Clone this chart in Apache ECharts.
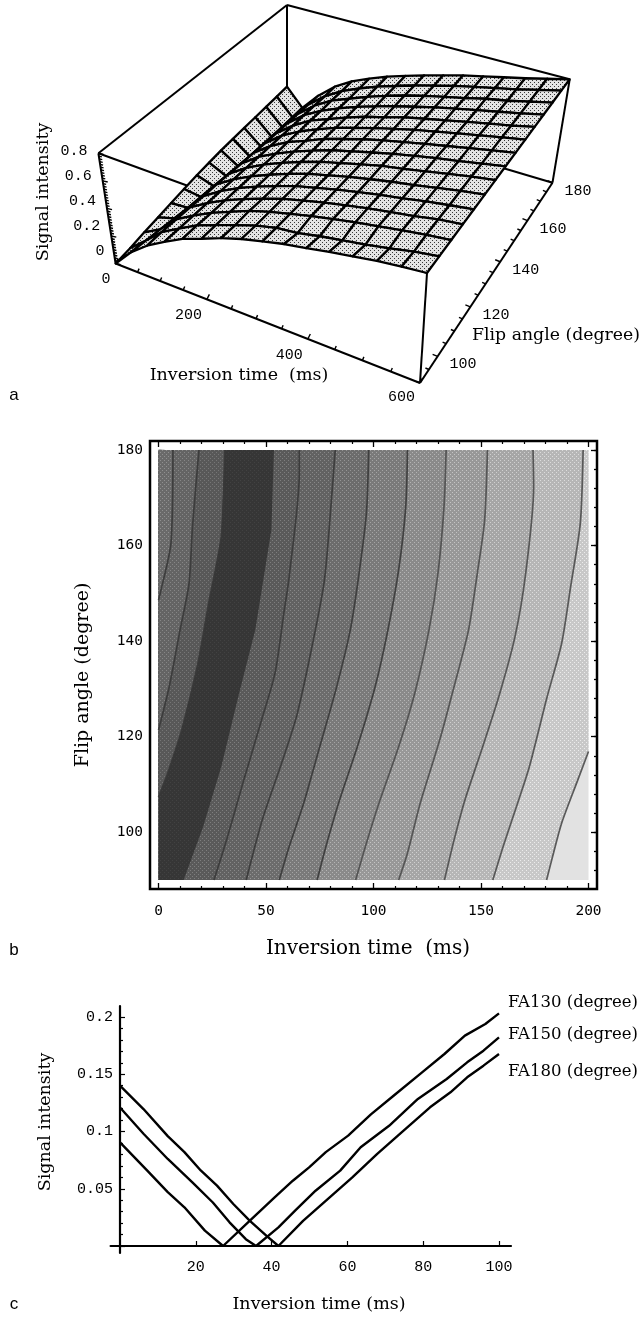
<!DOCTYPE html>
<html>
<head>
<meta charset="utf-8">
<style>html,body{margin:0;padding:0;background:#fff}#c{width:641px;height:1317px}</style>
<script src="https://cdn.jsdelivr.net/npm/echarts@6/dist/echarts.min.js"></script>
</head>
<body>
<div id="c"></div>
<script>
// ---------- Panel a data: signal intensity; one row per flip angle, one column per inversion time
const surfaceTI = [0,40,80,120,160,200,240,280,320,360,400,440,480,520,560,600];
const surfaceFA = [90,96.4,102.9,109.3,115.7,122.1,128.6,135,141.4,147.9,154.3,160.7,167.1,173.6,180];
const surfaceS = [
 [0.00,0.13,0.23,0.31,0.385,0.44,0.50,0.55,0.59,0.63,0.66,0.695,0.725,0.755,0.78,0.80],
 [0.012,0.115,0.228,0.305,0.38,0.435,0.49,0.54,0.58,0.60,0.635,0.665,0.695,0.73,0.77,0.80],
 [0.03,0.10,0.222,0.30,0.37,0.43,0.49,0.535,0.575,0.615,0.65,0.685,0.715,0.745,0.775,0.80],
 [0.045,0.085,0.215,0.295,0.365,0.425,0.48,0.53,0.57,0.61,0.645,0.68,0.71,0.74,0.775,0.80],
 [0.06,0.07,0.205,0.29,0.36,0.42,0.475,0.525,0.565,0.605,0.64,0.675,0.705,0.74,0.77,0.80],
 [0.075,0.06,0.20,0.285,0.355,0.415,0.47,0.52,0.56,0.60,0.635,0.67,0.70,0.735,0.77,0.80],
 [0.09,0.05,0.19,0.28,0.35,0.41,0.465,0.515,0.555,0.595,0.635,0.665,0.70,0.735,0.77,0.80],
 [0.10,0.04,0.18,0.275,0.345,0.405,0.46,0.51,0.55,0.59,0.63,0.665,0.70,0.73,0.765,0.80],
 [0.11,0.03,0.175,0.27,0.345,0.40,0.46,0.505,0.55,0.59,0.625,0.66,0.695,0.73,0.765,0.80],
 [0.115,0.02,0.165,0.265,0.34,0.40,0.455,0.50,0.545,0.585,0.625,0.66,0.695,0.73,0.765,0.80],
 [0.12,0.015,0.16,0.26,0.34,0.395,0.45,0.50,0.54,0.585,0.62,0.655,0.69,0.725,0.76,0.80],
 [0.125,0.01,0.155,0.26,0.335,0.395,0.45,0.495,0.54,0.58,0.62,0.655,0.69,0.725,0.76,0.80],
 [0.13,0.007,0.15,0.255,0.335,0.39,0.445,0.495,0.54,0.58,0.615,0.65,0.69,0.72,0.76,0.80],
 [0.135,0.005,0.145,0.25,0.33,0.39,0.445,0.49,0.535,0.575,0.615,0.65,0.685,0.72,0.76,0.80],
 [0.14,0.005,0.14,0.25,0.33,0.39,0.445,0.49,0.535,0.575,0.615,0.65,0.685,0.72,0.76,0.80]
];
const tiTickLabelsA = [0,200,400,600];
const faTickLabelsA = [100,120,140,160,180];
const sTickLabelsA = [0,0.2,0.4,0.6,0.8];

// ---------- Panel b data: contour lines as [inversion time, flip angle]
const contourL1 = [[6.7,180],[5.8,160.5],[0.8,150],[0,148.6]];
const contourL2 = [[18.8,180],[15.8,164],[14.2,152.1],[10,142.3],[5,130.5],[0.8,122.8],[0,121.4]];
const contourL3 = [[30.8,180],[29.2,161.9],[23.3,147.9],[18.3,135.3],[10.8,121.4],[4.2,112.3],[0,107.4]];
const contourR1 = [[53.7,180],[52.5,163.3],[50,156.3],[45,142.3],[37.5,129.1],[29.2,113.7],[20.8,101.2],[11.7,90]];
const contourR2 = [[65.5,180],[65.5,175.1],[60.8,153.5],[58.3,145.8],[54.2,133.3],[47.5,122.8],[39.2,110.2],[31.7,98.4],[25.8,90]];
const contourR3 = [[82.2,180],[80.8,171.6],[77.2,152.8],[71.7,139.5],[64.2,124.2],[56.7,113.7],[48.3,102.6],[40.8,90]];
const contourR4 = [[97.8,180],[96.7,166.7],[93.3,154.2],[89.2,142.3],[82.5,129.8],[75,117.9],[67.5,106],[60.8,97],[56.2,90]];
const contourR5 = [[115.8,180],[115,168.1],[111.7,154.9],[106.7,142.3],[100.8,130.5],[92.5,117.9],[84.2,106.7],[78.3,97.7],[73.8,90]];
const contourR6 = [[133.8,180],[132.8,168.1],[130,154.2],[125.8,142.3],[119.2,129.1],[111.7,117.9],[102.5,106],[96.7,97.7],[91.7,90]];
const contourR7 = [[153,180],[151.7,165.3],[148.3,154.2],[144.2,142.3],[137.5,130.5],[130.8,119.3],[121.7,106],[115.8,95.6],[111.7,90]];
const contourR8 = [[174.2,180],[174.5,172.3],[170.8,154.2],[165.8,140.9],[158.3,128.4],[150.8,117.9],[142.5,106.7],[137.5,98.4],[133,90]];
const contourR9 = [[197.5,180],[196.2,164.7],[191.7,151.4],[187.5,139.5],[180.8,128.4],[172.5,113.7],[167.5,106.7],[160.8,97.7],[155.5,90]];
const contourR10 = [[200,116.9],[195,110.9],[187.5,101.9],[183.3,94.9],[180.5,90]];
const faTickLabelsB = [100,120,140,160,180];

// ---------- Panel c data: [inversion time, signal intensity]
const fa130 = [[0,0.0905],[7.2,0.0658],[12.6,0.047],[17,0.0338],[22.4,0.0134],[27.2,0],[34.2,0.022],[40.8,0.0425],[45.6,0.057],[49.9,0.0687],[54.3,0.082],[60.2,0.0964],[66.2,0.115],[72.1,0.131],[79.7,0.1517],[85.6,0.1677],[91,0.1837],[96.4,0.1939],[100,0.2032]];
const fa150 = [[0,0.121],[6.2,0.098],[12.6,0.076],[19.1,0.0556],[24.5,0.038],[28.9,0.0207],[33.2,0.006],[35.9,0],[41.8,0.0163],[46.2,0.0309],[51.6,0.0483],[58.1,0.0658],[63.5,0.0862],[71,0.105],[78.6,0.1284],[86.2,0.1459],[91.6,0.1604],[95.9,0.1706],[100,0.1822]];
const fa180 = [[0,0.14],[6.2,0.1196],[12.6,0.096],[17,0.082],[21.3,0.066],[25.6,0.0527],[29.9,0.0367],[34.2,0.0221],[38.6,0.009],[41.8,0],[48.3,0.022],[54.8,0.041],[61.3,0.06],[67.8,0.0803],[74.3,0.0993],[81.8,0.1211],[87.2,0.1342],[91.6,0.1473],[95.9,0.1575],[100,0.1677]];

// ---------- Layout and style
const MONO = '"Liberation Mono"', MONO_B = '"DejaVu Sans Mono"', SERIF = '"DejaVu Serif"', SANS = '"Liberation Sans"';
const box = { // pixel corners of the perspective box of panel a
  A:[115.6,263.5], B:[420,383], C:[552.5,182.7], D:[287,104],
  At:[98.4,153.3], Bt:[427,273], Ct:[569.7,79.3], Dt:[287,5]
};
const warp = (t,k) => t/(t+k*(1-t));
const lerp = (p,q,t) => [p[0]+(q[0]-p[0])*t, p[1]+(q[1]-p[1])*t];
function project(ti, fa, s){
  const u = warp(ti/600,1.167), v = warp((fa-90)/90,0.815), w = s/0.8;
  const low  = lerp(lerp(box.A,box.B,u), lerp(box.D,box.C,u), v);
  const high = lerp(lerp(box.At,box.Bt,u), lerp(box.Dt,box.Ct,u), v);
  return lerp(low,high,w);
}
function tile(base, dot, period){
  const cv = document.createElement('canvas'); cv.width = cv.height = period;
  const g = cv.getContext('2d');
  g.fillStyle = base; g.fillRect(0,0,period,period);
  g.fillStyle = dot;
  g.fillRect(0,0,1,1); g.fillRect(period/2,period/2,1,1);
  return {image:cv, repeat:'repeat'};
}
const stipple = tile('#e4e4e4','#383838',4);

// ---------- Panel a marks
const cells = [];
for (let j=0;j<surfaceFA.length-1;j++) for (let i=0;i<surfaceTI.length-1;i++) cells.push([i,j]);
cells.sort((p,q)=>(p[0]-p[1])-(q[0]-q[1]));
const backEdges = [
  [[0,90,0.8],[0,180,0.8]], [[0,180,0.8],[600,180,0.8]], [[0,180,0],[0,180,0.8]],
  [[0,180,0],[600,180,0]], [[0,90,0.8],[600,90,0.8]]
];
const frontEdges = [
  [[0,90,0],[0,90,0.8]], [[0,90,0],[600,90,0]], [[600,90,0],[600,180,0]],
  [[600,90,0],[600,90,0.8]], [[600,180,0],[600,180,0.8]]
];
const tiTicks=[], faTicks=[], sTicks=[];
for (let t=0;t<=600;t+=50) tiTicks.push(t);
for (let f=90;f<=180;f+=5) faTicks.push(f);
for (let k=0;k<=40;k++) sTicks.push(k/50);
const lineEl = (api,a,b,w)=>{
  const p=api.coord(project(a[0],a[1],a[2])), q=api.coord(project(b[0],b[1],b[2]));
  return {type:'line',shape:{x1:p[0],y1:p[1],x2:q[0],y2:q[1]},style:{stroke:'#000',lineWidth:w}};
};
const segSeries = (list,w,z)=>({
  type:'custom',xAxisIndex:0,yAxisIndex:0,coordinateSystem:'cartesian2d',silent:true,z:z,clip:false,
  data:list.map((_,i)=>[i,i]),
  renderItem:(p,api)=>{const e=list[api.value(0)];return lineEl(api,e[0],e[1],w);}
});
const tickSeries = {
  type:'custom',xAxisIndex:0,yAxisIndex:0,silent:true,z:6,clip:false,
  data:[...tiTicks.map(t=>[0,t]),...faTicks.map(f=>[1,f]),...sTicks.map(s=>[2,s])],
  renderItem:(p,api)=>{
    const kind=api.value(0), val=api.value(1);
    let pt, d;
    if(kind===0){pt=project(val,90,0); const m=val%200===0; d=m?[2.5,-5]:[1.5,-3.5];}
    else if(kind===1){pt=project(600,val,0); const m=val%20===0; d=m?[-5,-2]:[-3.5,-1.5];}
    else {pt=project(0,90,val); const m=Math.abs(val*5-Math.round(val*5))<1e-6; d=m?[5,1.2]:[3,0.8];}
    const a=api.coord(pt);
    return {type:'line',shape:{x1:a[0],y1:a[1],x2:a[0]+d[0],y2:a[1]+d[1]},style:{stroke:'#000',lineWidth:1.4}};
  }
};
const textEl=(x,y,text,align)=>({type:'text',style:{x:x,y:y,text:String(text),align:align,verticalAlign:'middle',font:'15px '+MONO,fill:'#000'}});
const axisLabelSeriesA = {
  type:'custom',xAxisIndex:0,yAxisIndex:0,silent:true,z:7,clip:false,
  data:[...tiTickLabelsA.map(t=>[0,t]),...faTickLabelsA.map(f=>[1,f]),...sTickLabelsA.map(s=>[2,s])],
  renderItem:(p,api)=>{
    const kind=api.value(0), val=api.value(1);
    if(kind===0){const a=api.coord(project(val,90,0));return textEl(a[0]-5,a[1]+(val===600?14:16),val,'right');}
    if(kind===1){const a=api.coord(project(600,val,0));return textEl(a[0]+12,a[1]+8,val,'left');}
    const a=api.coord(project(0,90,val));
    return textEl(a[0]-11,a[1]-2-10*(1-val/0.8),val,'right');
  }
};
const surfaceSeries = {
  type:'custom',xAxisIndex:0,yAxisIndex:0,silent:true,z:4,clip:false,
  data:cells,
  renderItem:(p,api)=>{
    const i=api.value(0), j=api.value(1);
    const c=[[i,j],[i+1,j],[i+1,j+1],[i,j+1]].map(q=>api.coord(project(surfaceTI[q[0]],surfaceFA[q[1]],surfaceS[q[1]][q[0]])));
    return {type:'polygon',shape:{points:c},style:{fill:stipple,stroke:'#000',lineWidth:2.3,lineJoin:'round'}};
  }
};

// ---------- Panel b marks (painted from the lightest region leftwards)
const bandStack = [
  {line:contourR10, base:'#c8c8c8', dot:'#ececec'},
  {line:contourR9,  base:'#b6b6b6', dot:'#dcdcdc'},
  {line:contourR8,  base:'#a6a6a6', dot:'#d0d0d0'},
  {line:contourR7,  base:'#989898', dot:'#c4c4c4'},
  {line:contourR6,  base:'#8a8a8a', dot:'#b4b4b4'},
  {line:contourR5,  base:'#7a7a7a', dot:'#a4a4a4'},
  {line:contourR4,  base:'#6c6c6c', dot:'#949494'},
  {line:contourR3,  base:'#626262', dot:'#888888'},
  {line:contourR2,  base:'#5a5a5a', dot:'#7e7e7e'},
  {line:contourR1,  base:'#363636', dot:'#424242'},
  {line:contourL3,  base:'#585858', dot:'#767676'},
  {line:contourL2,  base:'#646464', dot:'#868686'},
  {line:contourL1,  base:'#6a6a6a', dot:'#909090'}
];
bandStack.forEach(b=>{b.fill=tile(b.base,b.dot,4);});
const bandSeries = {
  type:'custom',xAxisIndex:1,yAxisIndex:1,silent:true,z:3,clip:true,
  data:[-1,...bandStack.map((_,i)=>i)].map(i=>[i,i]),
  renderItem:(p,api)=>{
    const idx=api.value(0);
    if(idx<0){
      const pts=[[0,90],[200,90],[200,180],[0,180]].map(q=>api.coord(q));
      return {type:'polygon',shape:{points:pts},style:{fill:'#e2e2e2'}};
    }
    const b=bandStack[idx], L=b.line, pts=L.slice();
    if(L[L.length-1][1]===90) pts.push([0,90]);
    pts.push([0,180]);
    if(L[0][1]<180) pts.push([200,180]);
    return {type:'polygon',shape:{points:pts.map(q=>api.coord(q))},style:{fill:b.fill}};
  }
};
const contourLines = [contourL1,contourL2,contourL3,contourR2,contourR3,contourR4,contourR5,contourR6,contourR7,contourR8,contourR9,contourR10]
 .map((c,i)=>({
  type:'line',xAxisIndex:1,yAxisIndex:1,data:c,showSymbol:false,silent:true,z:5,smooth:0.25,
  lineStyle:{color:i<7?'#383838':'#4c4c4c',width:1.7,opacity:0.9}
}));

// ---------- Axes helpers
const hidden = (o)=>Object.assign({show:false,type:'value'},o);
const faMinor=[], faMajor=[];
for(let f=92;f<=180;f+=4) faMinor.push(f);
for(let f=100;f<=180;f+=20) faMajor.push(f);
const faAxis = (pos,major,labels)=>({
  type:'value',gridIndex:2,min:90,max:180,position:pos,offset:8.5,
  axisLine:{show:false},splitLine:{show:false},
  axisTick:{show:true,inside:true,length:major?6:3,lineStyle:{color:'#000',width:1.3},customValues:major?faMajor:faMinor},
  axisLabel:labels?{show:true,customValues:faTickLabelsB,margin:7,fontFamily:MONO_B,fontSize:14.5,color:'#000'}:{show:false}
});
const tiAxisB = (pos,labels)=>({
  type:'value',gridIndex:2,min:0,max:200,interval:50,position:pos,offset:9,
  axisLine:{show:false},splitLine:{show:false},
  axisTick:{show:true,inside:true,length:6,lineStyle:{color:'#000',width:1.3}},
  minorTick:{show:true,splitNumber:5,length:3,lineStyle:{color:'#000',width:1.2}},
  axisLabel:labels?{show:true,margin:15,fontFamily:MONO_B,fontSize:14.5,color:'#000'}:{show:false}
});
const txt = (x,y,text,font,extra)=>Object.assign({type:'text',x:x,y:y,style:{text:text,align:'center',verticalAlign:'middle',font:font,fill:'#000'}},extra||{});

const option = {
  animation:false,
  backgroundColor:'#fff',
  grid:[
    {left:0,top:0,width:641,height:420},
    {left:150,top:441,width:447,height:448,show:true,borderColor:'#000',borderWidth:2.5,backgroundColor:'#fff',z:0},
    {left:158.5,top:450,width:430,height:430,z:2},
    {left:110.6,top:1006,width:400.4,height:247},
    {left:120,top:1017,width:379,height:229}
  ],
  xAxis:[
    hidden({gridIndex:0,min:0,max:641}),
    tiAxisB('bottom',true),
    tiAxisB('top',false),
    hidden({gridIndex:1,min:0,max:1}),
    {type:'value',gridIndex:3,min:-2.48,max:103.2,axisLine:{show:true,onZero:true,lineStyle:{color:'#000',width:2.2}},axisTick:{show:false},axisLabel:{show:false},splitLine:{show:false}},
    {type:'value',gridIndex:4,min:0,max:100,interval:20,
      axisLine:{show:false},axisTick:{show:true,inside:true,length:5,lineStyle:{color:'#000',width:1.2}},
      splitLine:{show:false},
      axisLabel:{showMinLabel:false,margin:14,fontFamily:MONO,fontSize:15,color:'#000'}}
  ],
  yAxis:[
    hidden({gridIndex:0,min:0,max:420,inverse:true}),
    faAxis('left',true,true),
    faAxis('left',false,false),
    faAxis('right',true,false),
    faAxis('right',false,false),
    hidden({gridIndex:1,min:0,max:1}),
    {type:'value',gridIndex:3,min:-0.0061,max:0.2096,axisLine:{show:true,onZero:true,lineStyle:{color:'#000',width:2.2}},axisTick:{show:false},axisLabel:{show:false},splitLine:{show:false}},
    {type:'value',gridIndex:4,min:0,max:0.2,interval:0.05,
      axisLine:{show:false},axisTick:{show:true,inside:true,length:5,lineStyle:{color:'#000',width:1.2}},
      minorTick:{show:true,splitNumber:5,length:3,lineStyle:{color:'#000',width:1.2}},splitLine:{show:false},
      axisLabel:{showMinLabel:false,margin:7,fontFamily:MONO,fontSize:15,color:'#000'}}
  ],
  series:[
    segSeries(backEdges,2,2),
    surfaceSeries,
    segSeries(frontEdges,2,6),
    tickSeries,
    axisLabelSeriesA,
    bandSeries,
    ...contourLines,
    ...[fa130,fa150,fa180].map(d=>({type:'line',xAxisIndex:5,yAxisIndex:7,data:d,showSymbol:false,silent:true,z:5,
      lineStyle:{color:'#000',width:2.4},clip:false}))
  ],
  graphic:[
    txt(43,192,'Signal intensity','17.5px '+SERIF,{rotation:Math.PI/2}),
    txt(556,336,'Flip angle (degree)','17.3px '+SERIF),
    txt(239,375,'Inversion time  (ms)','17.5px '+SERIF),
    txt(14,395,'a','17px '+SANS),
    txt(83,675,'Flip angle (degree)','19px '+SERIF,{rotation:Math.PI/2}),
    txt(368,949,'Inversion time  (ms)','20px '+SERIF),
    txt(14,950,'b','17px '+SANS),
    txt(45,1122,'Signal intensity','17.5px '+SERIF,{rotation:Math.PI/2}),
    txt(319,1304,'Inversion time (ms)','17.5px '+SERIF),
    txt(14,1304,'c','17px '+SANS),
    txt(573,1003,'FA130 (degree)','16.5px '+SERIF),
    txt(573,1035,'FA150 (degree)','16.5px '+SERIF),
    txt(573,1072,'FA180 (degree)','16.5px '+SERIF)
  ]
};
const chart = echarts.init(document.getElementById('c'),null,{renderer:'canvas',width:641,height:1317});
chart.setOption(option);
</script>
</body>
</html>
